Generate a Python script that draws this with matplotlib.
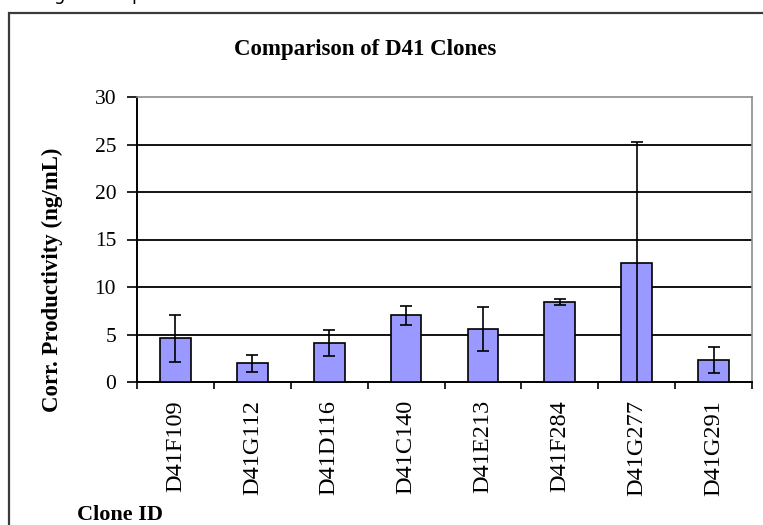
import numpy as np
import matplotlib
matplotlib.use('Agg')
import matplotlib.pyplot as plt
from matplotlib.patches import Rectangle

# --- dados ---
clones = ['D41F109', 'D41G112', 'D41D116', 'D41C140',
          'D41E213', 'D41F284', 'D41G277', 'D41G291']
productivity = [4.6, 1.95, 4.1, 7.05, 5.55, 8.4, 12.55, 2.3]
std_dev = [2.45, 0.9, 1.35, 1.0, 2.3, 0.3, 12.7, 1.35]
yticks = [0, 5, 10, 15, 20, 25, 30]

SERIF = 'Liberation Serif'
BAR_COLOR = '#9999FF'

fig = plt.figure(figsize=(7.63, 5.25), dpi=100)
fig.patch.set_facecolor('white')

# moldura externa do grafico (cortada pela captura)
frame = Rectangle((9 / 763, -0.05), 1.2, 1 - 13 / 525 + 0.05,
                  transform=fig.transFigure, fill=False,
                  edgecolor='#3a3a3a', linewidth=1.6)
fig.patches.append(frame)

# restos de texto cortado no topo da captura
fig.text(54 / 763, 1.0, 'g', fontsize=13, family='DejaVu Sans', va='baseline')
fig.text(131 / 763, 1.0, 'p', fontsize=13, family='DejaVu Sans', va='baseline')

ax = fig.add_axes([137 / 763, 1 - 382 / 525, 615 / 763, 285 / 525])

x = np.arange(len(clones))
ax.bar(x, productivity, width=0.4, color=BAR_COLOR, edgecolor='black',
       linewidth=1.2, zorder=3)
ax.errorbar(x, productivity, yerr=std_dev, fmt='none', ecolor='black',
            elinewidth=1.2, capsize=4, capthick=1.2, zorder=4)

ax.set_xlim(-0.5, len(clones) - 0.5)
ax.set_ylim(0, 30)
ax.set_yticks(yticks)
ax.set_yticklabels([str(v) for v in yticks], family=SERIF, fontsize=15.5)

# grade horizontal preta
for v in yticks[1:-1]:
    ax.axhline(v, color='black', linewidth=1.3, zorder=1)

# rotulos no centro, marcas nas fronteiras das categorias
ax.set_xticks(x)
ax.set_xticklabels(clones, rotation=90, family=SERIF, fontsize=17.5)
ax.set_xticks(np.arange(len(clones) + 1) - 0.5, minor=True)
ax.tick_params(axis='x', which='major', length=0, pad=13)
ax.tick_params(axis='x', which='minor', length=5, width=1.2, direction='out')
ax.tick_params(axis='y', length=7, width=1.2, direction='out', pad=8)

for side in ['left', 'bottom']:
    ax.spines[side].set_color('black')
    ax.spines[side].set_linewidth(1.4)
for side in ['top', 'right']:
    ax.spines[side].set_color('#8c8c8c')
    ax.spines[side].set_linewidth(1.2)

fig.text(365 / 763, 1 - 49 / 525, 'Comparison of D41 Clones',
         family=SERIF, fontsize=16.5, fontweight='bold', ha='center', va='center')
fig.text(52 / 763, 1 - 280 / 525, 'Corr. Productivity (ng/mL)',
         family=SERIF, fontsize=16.5, fontweight='bold', rotation=90,
         ha='center', va='center')
fig.text(77 / 763, 1 - 515 / 525, 'Clone ID',
         family=SERIF, fontsize=16, fontweight='bold', ha='left', va='center')

fig.savefig('out.png', dpi=100)
